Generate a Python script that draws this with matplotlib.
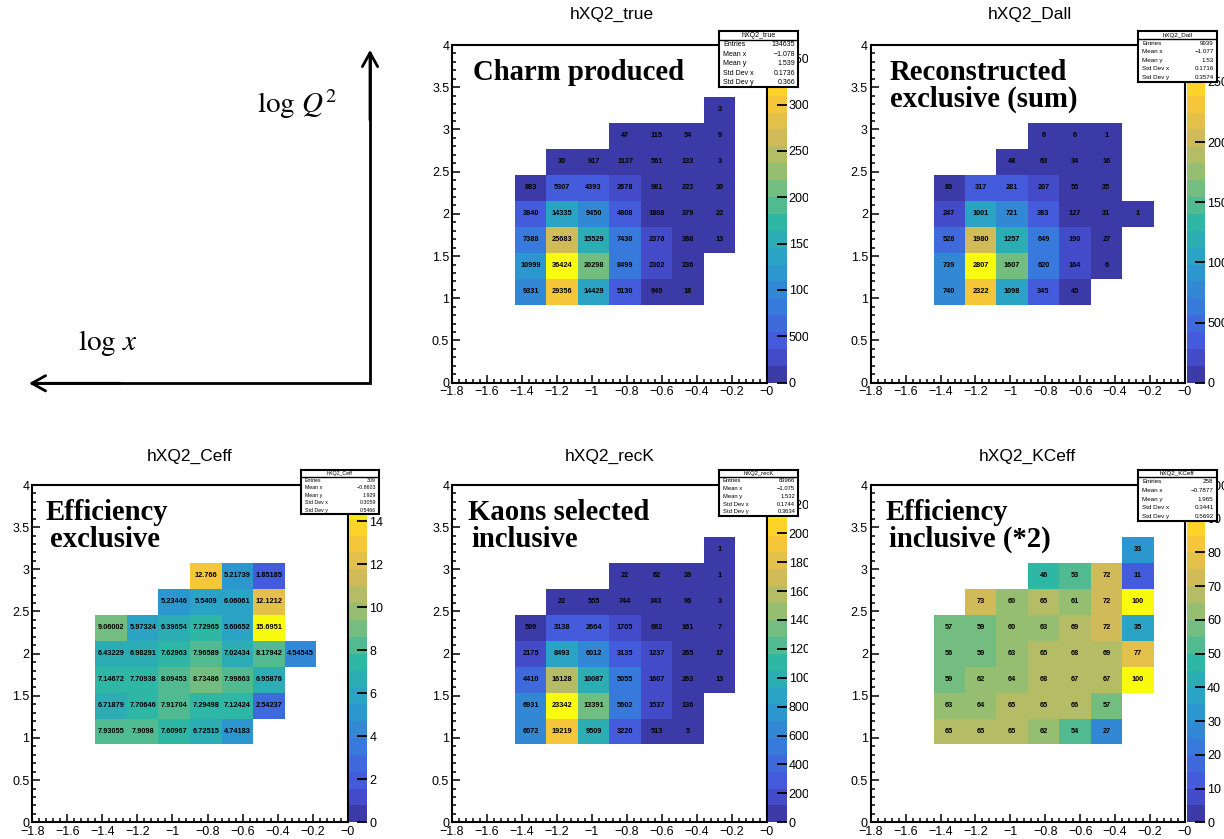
import numpy as np
import matplotlib
matplotlib.use('Agg')
import matplotlib.pyplot as plt
from matplotlib.colors import ListedColormap, BoundaryNorm
from matplotlib.transforms import Bbox, TransformedBbox
from matplotlib.ticker import FixedLocator, FuncFormatter

plt.rcParams['font.family'] = ['Liberation Sans', 'DejaVu Sans']
plt.rcParams['mathtext.fontset'] = 'stix'

nan = np.nan

# binning: 10 bins in log x, 13 bins in log Q^2
x_edges = np.linspace(-1.8, 0.0, 11)
y_edges = np.linspace(0.0, 4.0, 14)
# filled block: x bins 2..8, y bins 3..10 (rows listed bottom -> top)
col0, row0 = 2, 3

true_vals = [
    [9331, 29356, 14429, 5130, 949, 18, nan],
    [10999, 36424, 20298, 8499, 2302, 236, nan],
    [7388, 25683, 15529, 7430, 2376, 388, 13],
    [3840, 14335, 9450, 4808, 1808, 379, 22],
    [883, 5307, 4393, 2678, 981, 223, 20],
    [nan, 30, 917, 1137, 561, 132, 3],
    [nan, nan, nan, 47, 115, 54, 9],
    [nan, nan, nan, nan, nan, nan, 3],
]
dall_vals = [
    [740, 2322, 1098, 345, 45, nan, nan],
    [739, 2807, 1607, 620, 164, 6, nan],
    [528, 1980, 1257, 649, 190, 27, nan],
    [247, 1001, 721, 383, 127, 31, 1],
    [80, 317, 281, 207, 55, 35, nan],
    [nan, nan, 48, 63, 34, 16, nan],
    [nan, nan, nan, 6, 6, 1, nan],
    [nan, nan, nan, nan, nan, nan, nan],
]
ceff_vals = [
    [7.93055, 7.9098, 7.60967, 6.72515, 4.74183, nan, nan],
    [6.71879, 7.70646, 7.91704, 7.29498, 7.12424, 2.54237, nan],
    [7.14672, 7.70938, 8.09453, 8.73486, 7.99663, 6.95876, nan],
    [6.43229, 6.98291, 7.62963, 7.96589, 7.02434, 8.17942, 4.54545],
    [9.06002, 5.97324, 6.39654, 7.72965, 5.60652, 15.6951, nan],
    [nan, nan, 5.23446, 5.5409, 6.06061, 12.1212, nan],
    [nan, nan, nan, 12.766, 5.21739, 1.85185, nan],
    [nan, nan, nan, nan, nan, nan, nan],
]
reck_vals = [
    [6072, 19219, 9509, 3220, 513, 5, nan],
    [6931, 23342, 13391, 5602, 1537, 136, nan],
    [4410, 16128, 10087, 5055, 1607, 263, 13],
    [2175, 8493, 6012, 3135, 1237, 265, 17],
    [509, 3138, 2664, 1705, 682, 161, 7],
    [nan, 22, 555, 744, 343, 96, 3],
    [nan, nan, nan, 22, 62, 39, 1],
    [nan, nan, nan, nan, nan, nan, 1],
]
kceff_vals = [
    [65, 65, 65, 62, 54, 27, nan],
    [63, 64, 65, 65, 66, 57, nan],
    [59, 62, 64, 68, 67, 67, 100],
    [56, 59, 63, 65, 68, 69, 77],
    [57, 59, 60, 63, 69, 72, 35],
    [nan, 73, 60, 65, 61, 72, 100],
    [nan, nan, nan, 46, 53, 72, 11],
    [nan, nan, nan, nan, nan, nan, 33],
]

# colorbar ticks
true_cticks = [0, 5000, 10000, 15000, 20000, 25000, 30000, 35000]
dall_cticks = [0, 500, 1000, 1500, 2000, 2500]
ceff_cticks = [0, 2, 4, 6, 8, 10, 12, 14]
reck_cticks = [0, 2000, 4000, 6000, 8000, 10000, 12000, 14000, 16000,
               18000, 20000, 22000]
kceff_cticks = [0, 10, 20, 30, 40, 50, 60, 70, 80, 90, 100]

stat_names = ['Entries', 'Mean x', 'Mean y', 'Std Dev x', 'Std Dev y']
true_stats = ['134635', '\u22121.078', '1.539', '0.1736', '0.366']
dall_stats = ['9939', '\u22121.077', '1.53', '0.1716', '0.3574']
ceff_stats = ['309', '\u22120.8603', '1.929', '0.3059', '0.5466']
reck_stats = ['83966', '\u22121.075', '1.532', '0.1744', '0.3634']
kceff_stats = ['258', '\u22120.7877', '1.965', '0.3441', '0.5692']

# bird-like palette (255 colours) cut into 20 contour levels
bird_stops = [0.0, 0.125, 0.25, 0.375, 0.5, 0.625, 0.75, 0.875, 1.0]
bird_r = [0.2082, 0.28, 0.22, 0.16, 0.1802, 0.5301, 0.8186, 0.9956, 0.9764]
bird_g = [0.1664, 0.33, 0.48, 0.62, 0.7178, 0.7492, 0.7328, 0.7862, 0.9832]
bird_b = [0.5293, 0.86, 0.86, 0.80, 0.6425, 0.4662, 0.3499, 0.1968, 0.0539]
t = np.linspace(0, 1, 255)
palette = np.column_stack([np.interp(t, bird_stops, bird_r),
                           np.interp(t, bird_stops, bird_g),
                           np.interp(t, bird_stops, bird_b)])
ncont = 20
bands = [palette[min(int((i + 0.99) * 255 / ncont), 254)] for i in range(ncont)]
bird = ListedColormap(bands)

W, H = 1224, 839
fig = plt.figure(figsize=(W / 100, H / 100), dpi=100)
fig.patch.set_facecolor('white')


def px_axes(x0, y0, x1, y1):
    return fig.add_axes([x0 / W, 1 - y1 / H, (x1 - x0) / W, (y1 - y0) / H])


frame_x = [(32.3, 347.7), (452.0, 766.7), (870.7, 1185.0)]
frame_y = [(45.0, 382.7), (485.0, 822.3)]
cbar_x = [(349.0, 367.3), (768.3, 786.5), (1187.3, 1205.0)]

fmt_num = lambda v: ('%g' % round(v, 2)).replace('-', '\u2212')
xc = 0.5 * (x_edges[:-1] + x_edges[1:])
yc = 0.5 * (y_edges[:-1] + y_edges[1:])


def draw_panel(col, row, vals, cticks, clip_px=None):
    x0, x1 = frame_x[col]
    y0, y1 = frame_y[row]
    ax = px_axes(x0, y0, x1, y1)
    block = np.array(vals, dtype=float)
    grid = np.full((len(y_edges) - 1, len(x_edges) - 1), nan)
    grid[row0:row0 + block.shape[0], col0:col0 + block.shape[1]] = block
    zmax = np.nanmax(block)
    norm = BoundaryNorm(np.linspace(0, zmax, ncont + 1), ncont, clip=True)
    mesh = ax.pcolormesh(x_edges, y_edges, np.ma.masked_invalid(grid),
                         cmap=bird, norm=norm)
    for j in range(grid.shape[0]):
        for i in range(grid.shape[1]):
            v = grid[j, i]
            if np.isfinite(v):
                ax.text(xc[i], yc[j], '%g' % v, ha='center', va='center',
                        fontsize=5.3, fontweight='bold', color='black')
    ax.set_xlim(-1.8, 0)
    ax.set_ylim(0, 4)
    ax.xaxis.set_major_locator(FixedLocator(np.round(np.arange(-1.8, 0.001, 0.2), 2)))
    ax.xaxis.set_minor_locator(FixedLocator(np.round(np.arange(-1.8, 0.001, 0.04), 2)))
    ax.yaxis.set_major_locator(FixedLocator(np.arange(0, 4.01, 0.5)))
    ax.yaxis.set_minor_locator(FixedLocator(np.round(np.arange(0, 4.01, 0.1), 1)))
    ax.xaxis.set_major_formatter(FuncFormatter(lambda v, p: fmt_num(v)))
    ax.yaxis.set_major_formatter(FuncFormatter(lambda v, p: fmt_num(v)))
    ax.tick_params(which='both', direction='in', top=False, right=False,
                   width=1.1, labelsize=9)
    ax.tick_params(which='major', length=6)
    ax.tick_params(which='minor', length=3)
    ax.tick_params(axis='x', pad=2.5)
    ax.tick_params(axis='y', pad=2)
    for s in ax.spines.values():
        s.set_linewidth(1.5)

    cax = px_axes(cbar_x[col][0], y0, cbar_x[col][1], y1)
    cb = fig.colorbar(mesh, cax=cax)
    cb.outline.set_visible(False)
    cb.set_ticks(cticks)
    cb.set_ticklabels(['%g' % c for c in cticks])
    cax.minorticks_off()
    cax.tick_params(direction='in', length=7, width=1.3, labelsize=9, pad=1.5)
    if clip_px is not None:
        # labels are cut by the pad edge, as in the ROOT canvas
        box = TransformedBbox(Bbox.from_extents(0, 0, clip_px / W, 1), fig.transFigure)
        for tk in cax.yaxis.get_major_ticks():
            tk.label2.set_clip_on(True)
            tk.label2.set_clip_box(box)
            tk.label1.set_clip_on(True)
            tk.label1.set_clip_box(box)
    return ax


def stats_box(x0, y0, x1, y1, yh, title, values, fs):
    sa = px_axes(x0, y0, x1, y1)
    sa.set_xlim(0, 1)
    sa.set_ylim(y1, y0)
    sa.set_xticks([])
    sa.set_yticks([])
    sa.set_facecolor('white')
    for s in sa.spines.values():
        s.set_linewidth(1.5)
    sa.axhline(yh, color='black', lw=1.0)
    sa.text(0.5, (y0 + yh) / 2, title, ha='center', va='center', fontsize=fs)
    rh = (y1 - yh) / len(values)
    for k, (lab, val) in enumerate(zip(stat_names, values)):
        yy = yh + rh * (k + 0.5)
        sa.text(0.05, yy, lab, ha='left', va='center', fontsize=fs)
        sa.text(0.96, yy, val, ha='right', va='center', fontsize=fs)


draw_panel(1, 0, true_vals, true_cticks, clip_px=808)
draw_panel(2, 0, dall_vals, dall_cticks)
draw_panel(0, 1, ceff_vals, ceff_cticks)
draw_panel(1, 1, reck_vals, reck_cticks, clip_px=808)
draw_panel(2, 1, kceff_vals, kceff_cticks)

stats_box(719, 31, 798.3, 87.3, 40, 'hXQ2_true', true_stats, 5.0)
stats_box(1138.3, 31, 1216.7, 81.7, 39, 'hXQ2_Dall', dall_stats, 4.5)
stats_box(301, 470, 379, 514, 476.7, 'hXQ2_Ceff', ceff_stats, 3.8)
stats_box(719, 470, 798.3, 515.7, 476.7, 'hXQ2_recK', reck_stats, 4.2)
stats_box(1138.3, 470, 1216.7, 521, 477.3, 'hXQ2_KCeff', kceff_stats, 4.5)

# overlay in pixel coordinates for titles, labels and the axis sketch
ov = fig.add_axes([0, 0, 1, 1])
ov.set_xlim(0, W)
ov.set_ylim(H, 0)
ov.axis('off')
ov.patch.set_visible(False)

titles = [('hXQ2_true', 612, 14), ('hXQ2_Dall', 1030, 14),
          ('hXQ2_Ceff', 190, 456), ('hXQ2_recK', 610, 456),
          ('hXQ2_KCeff', 1027, 456)]
for name, cx, cy in titles:
    ov.text(cx, cy, name, ha='center', va='center', fontsize=12.5)

serif = dict(fontfamily='Liberation Serif', fontweight='bold', fontsize=20.7,
             ha='left', va='baseline')
labels = [('Charm produced', 472.7, 80), ('Reconstructed', 890, 80),
          ('exclusive (sum)', 890, 107), ('Efficiency', 45.7, 520),
          ('exclusive', 50, 547), ('Kaons selected', 468.3, 520),
          ('inclusive', 471.7, 547), ('Efficiency', 885.7, 520),
          ('inclusive (*2)', 889.3, 547)]
for txt, lx, ly in labels:
    ov.text(lx, ly, txt, **serif)

# axis sketch in the empty pad
ov.plot([370, 370, 31], [52, 383.3, 383.3], color='black', lw=2,
        solid_joinstyle='miter', solid_capstyle='butt')
ov.annotate('', xy=(370, 50), xytext=(370, 120),
            arrowprops=dict(arrowstyle='->,head_length=0.45,head_width=0.25',
                            lw=2, color='black', mutation_scale=22,
                            shrinkA=0, shrinkB=0))
ov.annotate('', xy=(29, 383.3), xytext=(120, 383.3),
            arrowprops=dict(arrowstyle='->,head_length=0.45,head_width=0.25',
                            lw=2, color='black', mutation_scale=22,
                            shrinkA=0, shrinkB=0))
ov.text(256.7, 113, r'$\mathrm{log}\ Q^{2}$', fontsize=21, ha='left', va='baseline')
ov.text(77.7, 350, r'$\mathrm{log}\ x$', fontsize=21, ha='left', va='baseline')

fig.savefig('out.png', dpi=100)
